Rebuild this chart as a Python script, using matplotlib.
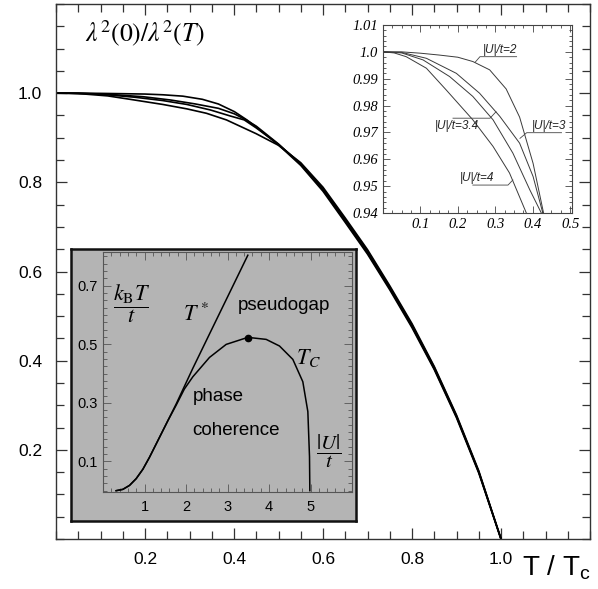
import matplotlib
matplotlib.use("Agg")
import matplotlib.pyplot as plt
from matplotlib.ticker import MultipleLocator

# ---------------- data ----------------
# lambda^2(0)/lambda^2(T) vs T/Tc for several |U|/t
t_u2 = [0, 0.05, 0.10, 0.151, 0.20, 0.24, 0.285, 0.329, 0.365, 0.401, 0.429, 0.45, 0.50,
        0.55, 0.60, 0.65, 0.70, 0.75, 0.80, 0.85, 0.90, 0.95, 1.0]
r_u2 = [1.0, 1.0, 0.9995, 0.9988, 0.998, 0.9964, 0.9933, 0.9862, 0.9757, 0.9585, 0.94, 0.924, 0.884,
        0.838, 0.780, 0.710, 0.639, 0.559, 0.474, 0.380, 0.272, 0.148, 0.0]
t_u3 = [0, 0.05, 0.116, 0.196, 0.258, 0.312, 0.365, 0.401, 0.427, 0.45, 0.50,
        0.55, 0.60, 0.65, 0.70, 0.75, 0.80, 0.85, 0.90, 0.95, 1.0]
r_u3 = [1.0, 0.9998, 0.9976, 0.992, 0.9846, 0.976, 0.966, 0.9536, 0.94, 0.926, 0.886,
        0.840, 0.783, 0.713, 0.642, 0.562, 0.477, 0.382, 0.274, 0.150, 0.0]
t_u34 = [0, 0.05, 0.107, 0.178, 0.24, 0.294, 0.347, 0.392, 0.423, 0.45, 0.50,
         0.55, 0.60, 0.65, 0.70, 0.75, 0.80, 0.85, 0.90, 0.95, 1.0]
r_u34 = [1.0, 0.9996, 0.997, 0.9908, 0.9834, 0.9747, 0.9623, 0.9487, 0.94, 0.922, 0.885,
         0.842, 0.786, 0.717, 0.646, 0.565, 0.480, 0.385, 0.276, 0.151, 0.0]
t_u4 = [0, 0.03, 0.062, 0.116, 0.169, 0.24, 0.294, 0.338, 0.383, 0.45, 0.50,
        0.55, 0.60, 0.65, 0.70, 0.75, 0.80, 0.85, 0.90, 0.95, 1.0]
r_u4 = [1.0, 0.9996, 0.9982, 0.9939, 0.9858, 0.9747, 0.9648, 0.9549, 0.94, 0.909, 0.883,
        0.844, 0.789, 0.720, 0.649, 0.568, 0.483, 0.387, 0.278, 0.153, 0.0]
curve_labels = ["|U|/t=2", "|U|/t=3", "|U|/t=3.4", "|U|/t=4"]

# phase diagram (k_B T / t vs |U|/t)
tstar_u = [0.317, 0.478, 0.639, 0.799, 0.960, 1.120, 1.361, 1.763, 2.165, 2.566, 2.968, 3.490]
tstar_t = [0.0, 0.0045, 0.018, 0.041, 0.073, 0.114, 0.182, 0.296, 0.418, 0.535, 0.652, 0.804]
tc_u = [0.317, 0.478, 0.639, 0.799, 0.960, 1.120, 1.361, 1.560, 1.763, 1.96, 2.165, 2.566,
        2.968, 3.490, 3.932, 4.253, 4.574, 4.815, 4.936, 4.976, 4.984]
tc_t = [0.0, 0.0045, 0.018, 0.041, 0.073, 0.114, 0.182, 0.238, 0.292, 0.347, 0.389, 0.455,
        0.4995, 0.5235, 0.5166, 0.494, 0.4484, 0.372, 0.270, 0.116, 0.0]
crit_u = [3.49]
crit_t = [0.523]

main_xticks = [0.2, 0.4, 0.6, 0.8, 1.0]
main_xlabels = ["0.2", "0.4", "0.6", "0.8", "1.0"]
main_yticks = [0.2, 0.4, 0.6, 0.8, 1.0]
main_ylabels = ["0.2", "0.4", "0.6", "0.8", "1.0"]
in1_xticks = [0.1, 0.2, 0.3, 0.4, 0.5]
in1_xlabels = ["0.1", "0.2", "0.3", "0.4", "0.5"]
in1_yticks = [0.94, 0.95, 0.96, 0.97, 0.98, 0.99, 1.0, 1.01]
in1_ylabels = ["0.94", "0.95", "0.96", "0.97", "0.98", "0.99", "1.0", "1.01"]
in2_xticks = [1, 2, 3, 4, 5]
in2_xlabels = ["1", "2", "3", "4", "5"]
in2_yticks = [0.1, 0.3, 0.5, 0.7]
in2_ylabels = ["0.1", "0.3", "0.5", "0.7"]

SANS = ["Liberation Sans", "DejaVu Sans"]
SERIF = ["Liberation Serif", "DejaVu Serif"]

W, H = 598, 589
fig = plt.figure(figsize=(W / 100, H / 100), dpi=100)


def rect(x0, y0, x1, y1):
    return [x0 / W, 1 - y1 / H, (x1 - x0) / W, (y1 - y0) / H]


curves = [(t_u2, r_u2), (t_u3, r_u3), (t_u34, r_u34), (t_u4, r_u4)]

# ---------------- main axes ----------------
ax = fig.add_axes(rect(56, 4, 590, 539))
for tt, rr in curves:
    ax.plot(tt, rr, color="black", lw=1.2, solid_joinstyle="round")
ax.set_xlim(0, 1.2)
ax.set_ylim(0, 1.2)
ax.set_xticks(main_xticks)
ax.set_xticklabels(main_xlabels, family=SANS, fontsize=12.5)
ax.set_yticks(main_yticks)
ax.set_yticklabels(main_ylabels, family=SANS, fontsize=12.5)
ax.xaxis.set_minor_locator(MultipleLocator(0.05))
ax.yaxis.set_minor_locator(MultipleLocator(0.05))
ax.tick_params(which="both", direction="in", top=True, right=True, color="#333333", width=0.9)
ax.tick_params(which="major", length=8)
ax.tick_params(which="minor", length=5.5)
ax.tick_params(axis="x", which="major", pad=9.5)
ax.tick_params(axis="y", which="major", pad=10)
for s in ax.spines.values():
    s.set_linewidth(1.0)
    s.set_color("#333333")
ax.text(0.054, 0.946, r"$\lambda^2(0)/\lambda^2(T)$", transform=ax.transAxes,
        fontsize=18.5, math_fontfamily="stix", ha="left", va="center")
fig.text(522 / W, 1 - 553 / H, r"T / T$_\mathregular{c}$", family=SANS,
         fontsize=20, ha="left", va="top")

# ---------------- upper-right inset ----------------
ax2 = fig.add_axes(rect(383, 25, 572, 213))
for tt, rr in curves:
    ax2.plot(tt, rr, color="#3a3a3a", lw=0.7)
ax2.set_xlim(0, 0.505)
ax2.set_ylim(0.94, 1.01)
ax2.set_xticks(in1_xticks)
ax2.set_xticklabels(in1_xlabels, family=SERIF, style="italic", fontsize=10.5)
ax2.set_yticks(in1_yticks)
ax2.set_yticklabels(in1_ylabels, family=SERIF, style="italic", fontsize=10.5)
ax2.xaxis.set_minor_locator(MultipleLocator(0.025))
ax2.yaxis.set_minor_locator(MultipleLocator(0.002))
ax2.tick_params(which="both", direction="in", top=True, right=True, color="#444444", width=0.6)
ax2.tick_params(which="major", length=5, pad=3.5)
ax2.tick_params(which="minor", length=2.5)
for s in ax2.spines.values():
    s.set_linewidth(0.8)
    s.set_color("#444444")

lead_kw = dict(color="#444444", lw=0.6)
ax2.plot([0.246, 0.259, 0.357], [0.9961, 0.9982, 0.9982], **lead_kw)
ax2.text(0.267, 0.9985, curve_labels[0], family=SANS, style="italic", fontsize=8.5,
         ha="left", va="bottom", color="#222222")
ax2.plot([0.366, 0.384, 0.477], [0.9678, 0.9699, 0.9699], **lead_kw)
ax2.text(0.397, 0.9702, curve_labels[1], family=SANS, style="italic", fontsize=8.5,
         ha="left", va="bottom", color="#222222")
ax2.plot([0.187, 0.286, 0.302], [0.9753, 0.9753, 0.9777], **lead_kw)
ax2.text(0.139, 0.9745, curve_labels[2], family=SANS, style="italic", fontsize=8.5,
         ha="left", va="top", color="#222222")
ax2.plot([0.240, 0.334, 0.347], [0.9504, 0.9504, 0.9523], **lead_kw)
ax2.text(0.206, 0.9507, curve_labels[3], family=SANS, style="italic", fontsize=8.5,
         ha="left", va="bottom", color="#222222")

# ---------------- lower-left gray inset ----------------
box = fig.add_axes(rect(71, 249, 356, 521))
box.set_facecolor("#b4b4b4")
box.set_xticks([])
box.set_yticks([])
for s in box.spines.values():
    s.set_linewidth(1.8)
    s.set_color("#111111")

ax3 = fig.add_axes(rect(103, 252, 352, 492))
ax3.set_facecolor("none")
ax3.plot(tstar_u, tstar_t, color="black", lw=1.1)
ax3.plot(tc_u, tc_t, color="black", lw=1.1)
ax3.plot(crit_u, crit_t, "o", color="black", ms=4.5)
ax3.set_xlim(0, 6)
ax3.set_ylim(-0.0045, 0.815)
ax3.set_xticks(in2_xticks)
ax3.set_xticklabels(in2_xlabels, family=SANS, fontsize=10.5)
ax3.set_yticks(in2_yticks)
ax3.set_yticklabels(in2_ylabels, family=SANS, fontsize=10.5)
ax3.xaxis.set_minor_locator(MultipleLocator(0.2))
ax3.yaxis.set_minor_locator(MultipleLocator(0.025))
ax3.tick_params(which="both", direction="in", top=True, right=True, color="#555555", width=0.6)
ax3.tick_params(which="major", length=6)
ax3.tick_params(which="minor", length=3)
ax3.tick_params(axis="x", which="major", pad=6)
ax3.tick_params(axis="y", which="major", pad=4)
for s in ax3.spines.values():
    s.set_linewidth(0.8)
    s.set_color("#555555")

ax3.text(0.69, 0.64, r"$\dfrac{k_\mathrm{B}T}{t}$", fontsize=16, math_fontfamily="stix",
         ha="center", va="center")
ax3.text(2.25, 0.605, r"$T^*$", fontsize=16, math_fontfamily="stix", ha="center", va="center")
ax3.text(4.37, 0.634, "pseudogap", family=SANS, fontsize=13.5, ha="center", va="center")
ax3.text(4.95, 0.453, r"$T_C$", fontsize=16, math_fontfamily="stix", ha="center", va="center")
ax3.text(2.157, 0.32, "phase", family=SANS, fontsize=13.5, ha="left", va="center")
ax3.text(2.157, 0.207, "coherence", family=SANS, fontsize=13.5, ha="left", va="center")
ax3.text(5.43, 0.136, r"$\dfrac{|U|}{t}$", fontsize=15, math_fontfamily="stix",
         ha="center", va="center")

fig.savefig("out.png", dpi=100)
